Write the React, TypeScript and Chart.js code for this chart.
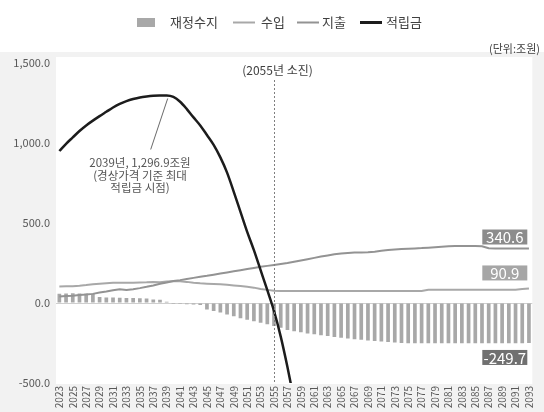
import { useEffect, useRef } from "react";
import { Chart, registerables } from "chart.js";

Chart.register(...registerables);

const FONT = "'Noto Sans CJK KR', 'Noto Sans', sans-serif";

// Projection years
const years = [
  "2023", "2024", "2025", "2026", "2027", "2028", "2029", "2030", "2031", "2032",
  "2033", "2034", "2035", "2036", "2037", "2038", "2039", "2040", "2041", "2042",
  "2043", "2044", "2045", "2046", "2047", "2048", "2049", "2050", "2051", "2052",
  "2053", "2054", "2055", "2056", "2057", "2058", "2059", "2060", "2061", "2062",
  "2063", "2064", "2065", "2066", "2067", "2068", "2069", "2070", "2071", "2072",
  "2073", "2074", "2075", "2076", "2077", "2078", "2079", "2080", "2081", "2082",
  "2083", "2084", "2085", "2086", "2087", "2088", "2089", "2090", "2091", "2092",
  "2093",
];

// 재정수지 (조원)
const balance = [
  58, 60, 61, 60, 60, 58, 37, 35, 34, 33,
  32, 31, 30, 28, 22, 20, 8, -6, -7, -8,
  -10, -12, -40, -50, -60, -72, -83, -95, -105, -114,
  -123, -133, -143, -155, -168, -177, -183, -190, -196, -202,
  -207, -212, -217, -222, -226, -230, -234, -238, -241, -244,
  -247, -250, -252, -252, -252, -252, -252, -252, -252, -252,
  -252, -252, -252, -252, -252, -252, -252, -252, -252, -252,
  -249.7,
];

// 수입 (조원)
const revenue = [
  103, 104, 105, 108, 112, 117, 121, 124, 126, 127,
  127, 127, 128, 129, 131, 130, 134, 136, 136, 132,
  126, 123, 121, 119, 117, 114, 110, 106, 101, 96,
  88, 82, 77, 75, 75, 75, 75, 75, 75, 75,
  75, 75, 75, 75, 75, 75, 75, 75, 75, 75,
  75, 75, 75, 75, 75, 83, 83, 83, 83, 83,
  83, 83, 83, 83, 83, 83, 83, 83, 83, 87,
  90.9,
];

// 지출 (조원)
const expenditure = [
  40, 43, 46, 50, 53, 57, 65, 72, 80, 86,
  82, 86, 93, 101, 110, 120, 128, 137, 143, 150,
  157, 164, 170, 177, 184, 191, 198, 205, 212, 219,
  226, 232, 238, 244, 250, 258, 266, 274, 282, 290,
  297, 304, 310, 313, 315, 316, 317, 321, 326, 331,
  334, 337, 339, 341, 343, 346, 349, 352, 355, 356,
  356, 356, 356, 355, 342, 341, 341, 341, 341, 340.6,
  340.6,
];

// 적립금 (조원), 소진 이후 값 없음
const fund: (number | null)[] = [
  950, 995, 1035, 1075, 1110, 1140, 1168, 1195, 1222, 1245,
  1262, 1275, 1285, 1291, 1295, 1296.5, 1296.9, 1288, 1258, 1212,
  1160, 1110, 1050, 988, 910, 815, 695, 570, 445, 330,
  205, 80, -50, -210, -400, -610, null, null, null, null,
  null, null, null, null, null, null, null, null, null, null,
  null, null, null, null, null, null, null, null, null, null,
  null, null, null, null, null, null, null, null, null, null,
  null,
];

const yTicks = [-500, 0, 500, 1000, 1500];

const peakYear = "2039";
const peakValue = 1296.9;
const peakNote = ["2039년, 1,296.9조원", "(경상가격 기준 최대", "적립금 시점)"];
const depletionYear = "2055";
const depletionNote = "(2055년 소진)";
const unitNote = "(단위:조원)";

const BAR = "#a8a8a8";
const REV = "#a8a8a8";
const EXP = "#939393";
const FUND = "#1c1c1c";
const TEXT = "#595959";

const seriesNames = ["재정수지", "수입", "지출", "적립금"];

const fmt = (v: number) =>
  v.toLocaleString("en-US", { minimumFractionDigits: 1, maximumFractionDigits: 1 });

const backdrop = {
  id: "backdrop",
  beforeDraw(chart: any) {
    const { ctx, width, height, chartArea } = chart;
    ctx.save();
    ctx.fillStyle = "#ffffff";
    ctx.fillRect(0, 0, width, height);
    ctx.fillStyle = "#f2f2f2";
    ctx.fillRect(0, 52, width, height - 52);
    ctx.fillStyle = "#ffffff";
    ctx.fillRect(chartArea.left, chartArea.top - 6, chartArea.right - chartArea.left, chartArea.bottom - chartArea.top + 7);
    ctx.restore();
  },
};

const overlay = {
  id: "overlay",
  afterDraw(chart: any) {
    const { ctx, chartArea, scales } = chart;
    const xs = scales.x;
    const ys = scales.y;
    ctx.save();

    // legend row
    ctx.font = `13px ${FONT}`;
    ctx.textBaseline = "middle";
    const ly = 22.5;
    ctx.fillStyle = BAR;
    ctx.fillRect(137, 18, 18, 9);
    ctx.fillStyle = "#404040";
    ctx.fillText(seriesNames[0], 170, ly);
    const lineItems = [
      { x: 233, tx: 261, color: REV, w: 2, name: seriesNames[1] },
      { x: 297, tx: 322, color: EXP, w: 2, name: seriesNames[2] },
      { x: 360, tx: 386, color: FUND, w: 3, name: seriesNames[3] },
    ];
    for (const it of lineItems) {
      ctx.strokeStyle = it.color;
      ctx.lineWidth = it.w;
      ctx.beginPath();
      ctx.moveTo(it.x, ly);
      ctx.lineTo(it.x + 22, ly);
      ctx.stroke();
      ctx.fillStyle = "#404040";
      ctx.fillText(it.name, it.tx, ly);
    }

    // unit
    ctx.font = `11px ${FONT}`;
    ctx.textAlign = "right";
    ctx.fillStyle = "#404040";
    ctx.fillText(unitNote, 540, 49);

    // depletion marker
    const dx = Math.round(xs.getPixelForValue(years.indexOf(depletionYear))) + 0.5;
    ctx.strokeStyle = "#7f7f7f";
    ctx.lineWidth = 1;
    ctx.setLineDash([2, 2]);
    ctx.beginPath();
    ctx.moveTo(dx, 80);
    ctx.lineTo(dx, chartArea.bottom);
    ctx.stroke();
    ctx.setLineDash([]);
    ctx.textAlign = "center";
    ctx.font = `12px ${FONT}`;
    ctx.fillStyle = "#404040";
    ctx.fillText(depletionNote, dx + 3, 70);

    // peak note with leader line
    const px = xs.getPixelForValue(years.indexOf(peakYear));
    const py = ys.getPixelForValue(peakValue);
    ctx.strokeStyle = "#6a6a6a";
    ctx.lineWidth = 1;
    ctx.beginPath();
    ctx.moveTo(px + 1, py + 3);
    ctx.lineTo(px - 16, py + 54);
    ctx.stroke();
    ctx.fillStyle = "#555555";
    ctx.font = `11.5px ${FONT}`;
    peakNote.forEach((t, i) => ctx.fillText(t, 140, 163 + i * 12.5));

    // end-value tags
    const last = years.length - 1;
    const tags = [
      { v: expenditure[last], bg: "#8c8c8c", dy: -4, above: true },
      { v: revenue[last], bg: "#a6a6a6", dy: -8, above: true },
      { v: balance[last], bg: "#707070", dy: 7, above: false },
    ];
    ctx.font = `15px ${FONT}`;
    for (const t of tags) {
      const y = ys.getPixelForValue(t.v);
      const h = 15;
      const w = 45;
      const right = chartArea.right - 5;
      const top = t.above ? y + t.dy - h : y + t.dy;
      ctx.fillStyle = t.bg;
      ctx.fillRect(right - w, top, w, h);
      ctx.fillStyle = "#ffffff";
      ctx.textAlign = "center";
      ctx.fillText(fmt(t.v), right - w / 2, top + h / 2 + 0.5);
    }
    ctx.restore();
  },
};

export default function App() {
  const ref = useRef<HTMLCanvasElement>(null);

  useEffect(() => {
    const canvas = ref.current;
    if (!canvas) return;
    const chart = new Chart(canvas, {
      type: "bar",
      data: {
        labels: years,
        datasets: [
          {
            type: "bar",
            label: seriesNames[0],
            data: balance,
            backgroundColor: BAR,
            barPercentage: 0.55,
            categoryPercentage: 1,
            order: 4,
          },
          {
            type: "line",
            label: seriesNames[1],
            data: revenue,
            borderColor: REV,
            borderWidth: 2,
            pointRadius: 0,
            tension: 0,
            order: 3,
          },
          {
            type: "line",
            label: seriesNames[2],
            data: expenditure,
            borderColor: EXP,
            borderWidth: 2,
            pointRadius: 0,
            tension: 0,
            order: 2,
          },
          {
            type: "line",
            label: seriesNames[3],
            data: fund,
            borderColor: FUND,
            borderWidth: 2.5,
            pointRadius: 0,
            cubicInterpolationMode: "monotone",
            spanGaps: false,
            order: 1,
          },
        ] as any,
      },
      options: {
        responsive: false,
        animation: false,
        devicePixelRatio: 1,
        layout: { padding: { top: 63, right: 7, left: 0, bottom: 0 } },
        plugins: { legend: { display: false }, tooltip: { enabled: false } },
        scales: {
          x: {
            grid: { display: false, drawTicks: false },
            border: { display: false },
            ticks: {
              autoSkip: false,
              maxRotation: 90,
              minRotation: 90,
              padding: 3,
              color: TEXT,
              font: { family: FONT, size: 10 },
              callback: (_v: any, i: number) => (i % 2 === 0 ? years[i] : null),
            },
            afterFit: (s: any) => {
              s.height = 29;
            },
          },
          y: {
            min: yTicks[0],
            max: yTicks[yTicks.length - 1],
            afterBuildTicks: (s: any) => {
              s.ticks = yTicks.map((value) => ({ value }));
            },
            ticks: {
              padding: 6,
              color: TEXT,
              font: { family: FONT, size: 11 },
              callback: (v: any) => fmt(Number(v)),
            },
            grid: {
              drawTicks: false,
              color: (c: any) => (c.tick && c.tick.value === 0 ? "#cfcfcf" : "rgba(0,0,0,0)"),
            },
            border: { display: false },
            afterFit: (s: any) => {
              s.width = 56;
            },
          },
        },
      } as any,
      plugins: [backdrop, overlay],
    });
    return () => chart.destroy();
  }, []);

  return (
    <div style={{ position: "fixed", left: 0, top: 0, width: 544, height: 412, background: "#fff" }}>
      <canvas ref={ref} width={544} height={412} style={{ display: "block", width: 544, height: 412 }} />
    </div>
  );
}
